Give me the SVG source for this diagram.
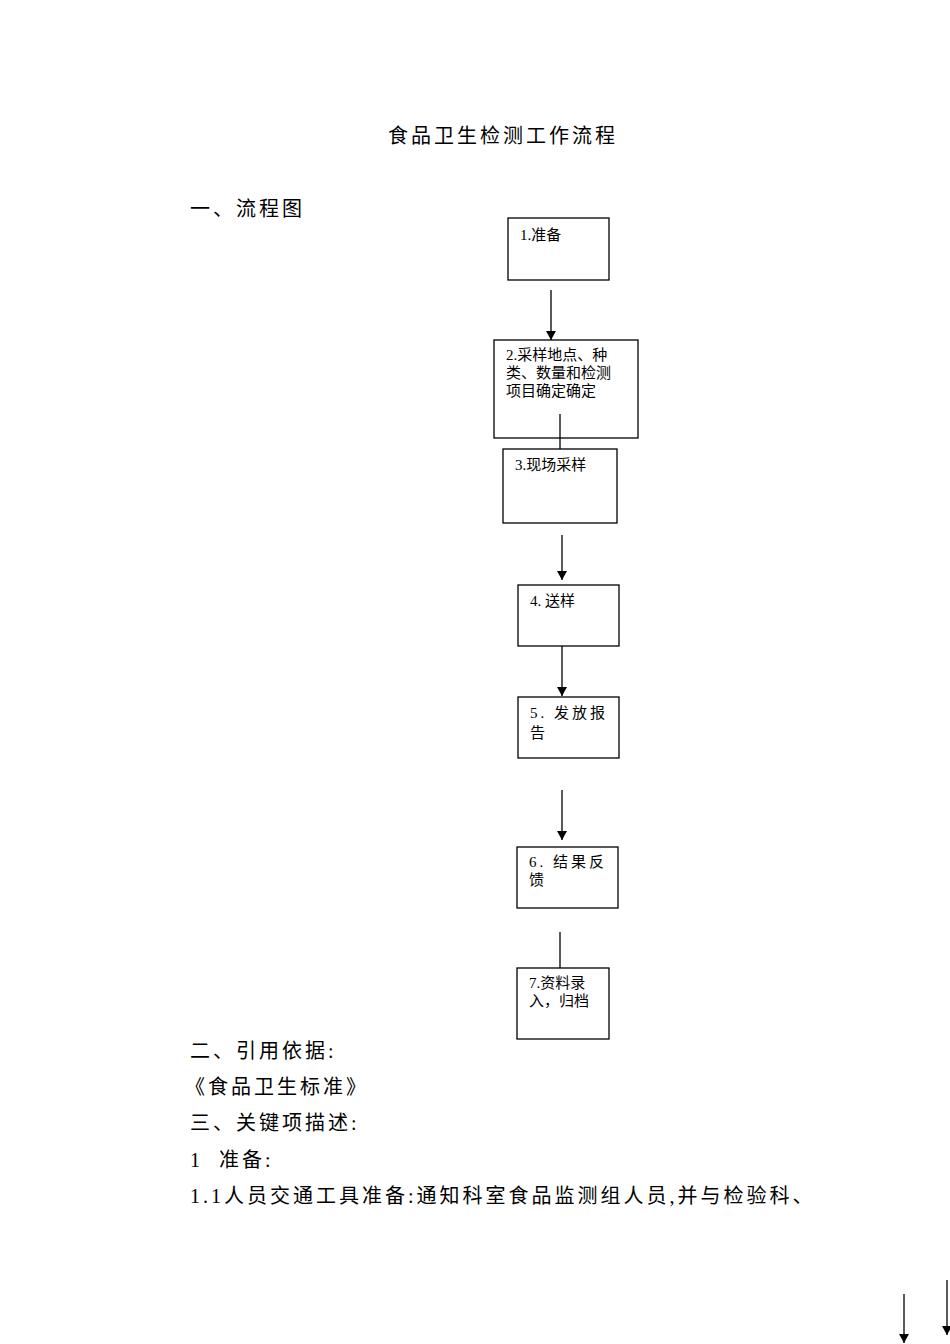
<svg xmlns="http://www.w3.org/2000/svg" width="950" height="1344" viewBox="0 0 950 1344">
<style>
.b{fill:#fff;stroke:#000;stroke-width:1.3}
.t{font-family:"Liberation Serif","Noto Sans CJK SC",serif;font-size:15px;fill:#000}
.h{font-family:"Liberation Serif","Noto Sans CJK SC",serif;font-size:20px;fill:#000;letter-spacing:3px}
.l{stroke:#000;stroke-width:1.3;fill:none}
</style>
<defs><marker id="a" markerWidth="10" markerHeight="10" refX="9" refY="5" orient="auto" markerUnits="userSpaceOnUse"><path d="M0,0 L9,5 L0,10 Z"/></marker></defs>
<rect width="950" height="1344" fill="#fff"/>
<text class="h" x="388" y="143">食品卫生检测工作流程</text>
<text class="h" x="190" y="216">一、流程图</text>
<g id="n1"><rect class="b" x="508" y="218" width="101" height="62"/><text class="t" x="520" y="240">1.准备</text></g>
<g id="n2"><rect class="b" x="494" y="340" width="144" height="98"/><text class="t" x="506" y="360">2.采样地点、种</text><text class="t" x="506" y="378">类、数量和检测</text><text class="t" x="506" y="396">项目确定确定</text></g>
<g id="n3"><rect class="b" x="503" y="449" width="114" height="74"/><text class="t" x="515" y="470">3.现场采样</text></g>
<g id="n4"><rect class="b" x="518" y="585" width="101" height="61"/><text class="t" x="530" y="606">4. 送样</text></g>
<g id="n5"><rect class="b" x="518" y="697" width="101" height="61"/><text class="t" x="530" y="718" letter-spacing="3">5. 发放报</text><text class="t" x="530" y="738">告</text></g>
<g id="n6"><rect class="b" x="517" y="847" width="101" height="61"/><text class="t" x="529" y="867" letter-spacing="3">6. 结果反</text><text class="t" x="529" y="885">馈</text></g>
<g id="n7"><rect class="b" x="517" y="968" width="92" height="71"/><text class="t" x="529" y="988">7.资料录</text><text class="t" x="529" y="1006">入，归档</text></g>
<g id="connectors">
<line class="l" x1="551" y1="290" x2="551" y2="340" marker-end="url(#a)"/>
<line class="l" x1="560" y1="414" x2="560" y2="449"/>
<line class="l" x1="562" y1="535" x2="562" y2="580" marker-end="url(#a)"/>
<line class="l" x1="562" y1="646" x2="562" y2="696" marker-end="url(#a)"/>
<line class="l" x1="562" y1="790" x2="562" y2="840" marker-end="url(#a)"/>
<line class="l" x1="560" y1="932" x2="560" y2="968"/>
<line class="l" x1="904" y1="1294" x2="904" y2="1343" marker-end="url(#a)"/>
<line class="l" x1="947" y1="1280" x2="947" y2="1335" marker-end="url(#a)"/>
</g>
<text class="h" x="190" y="1058">二、引用依据:</text>
<text class="h" x="185" y="1094">《食品卫生标准》</text>
<text class="h" x="190" y="1130">三、关键项描述:</text>
<text class="h" x="190" y="1167" xml:space="preserve">1  准备:</text>
<text class="h" x="190" y="1203" letter-spacing="2">1.1人员交通工具准备:通知科室食品监测组人员,并与检验科、</text>
</svg>
